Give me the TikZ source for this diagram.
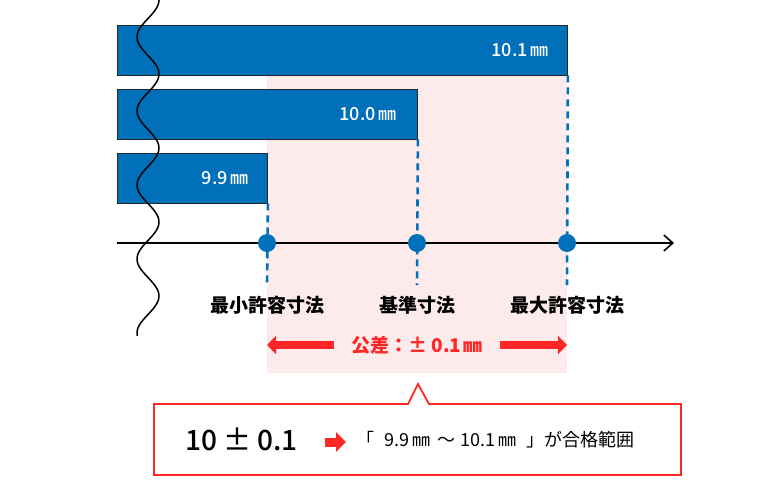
\documentclass[tikz,border=0pt]{standalone}
\usepackage{fontspec}
\setmainfont{Noto Sans CJK JP}
\IfFontExistsTF{Noto Sans CJK JP Medium}
  {\newfontfamily\medfont{Noto Sans CJK JP Medium}}
  {\newcommand\medfont{\bfseries}}
\usetikzlibrary{positioning,arrows.meta}
\definecolor{barblue}{HTML}{0070BB}
\definecolor{tolpink}{HTML}{FDEBEB}
\definecolor{tolred}{HTML}{FF2626}

\begin{document}
\begin{tikzpicture}[x=1pt,y=-1pt,
    bar/.style={rectangle,draw=black!85,fill=barblue,line width=0.9pt,minimum height=50pt,inner sep=0pt,anchor=west},
    bar text/.style={text=white,inner sep=0pt,font=\medfont\fontsize{18}{18}\selectfont},
    mark dot/.style={circle,fill=barblue,minimum size=18pt,inner sep=0pt},
    guide/.style={draw=barblue,line width=2.6pt,dash pattern=on 7pt off 5pt},
    dim label/.style={inner sep=0pt,font=\bfseries\fontsize{19}{19}\selectfont},
    wide arrow/.style={draw=tolred,line width=8pt,-{Triangle[length=9pt,width=18pt]}}]
\useasboundingbox (0,0) rectangle (768,493);

% tolerance zone
\fill[tolpink] (267,75) rectangle (567,373);

% bars
\node[bar,minimum width=450pt] (bar101) at (117,50) {};
\node[bar,minimum width=300pt] (bar100) at (117,114) {};
\node[bar,minimum width=150pt] (bar099) at (117,178) {};
\node[bar text,left=19pt of bar101.east] {10.1\hspace{3pt}㎜};
\node[bar text,left=21pt of bar100.east] {10.0\hspace{3pt}㎜};
\node[bar text,left=19pt of bar099.east] {9.9\hspace{3pt}㎜};

% guides and axis
\coordinate (gmin) at (267,285);
\coordinate (gstd) at (417,285);
\coordinate (gmax) at (567,285);
\draw[guide] (bar099.south east) -- (gmin);
\draw[guide] (bar100.south east) -- (gstd);
\draw[guide] (bar101.south east) -- (gmax);
\coordinate (ax0) at (117,243);
\coordinate (ax1) at (674,243);
\draw[line width=1.6pt,-{Straight Barb[length=9pt,width=16pt,line width=1.6pt]}] (ax0) -- (ax1);
\node[mark dot] (dmin) at (267,243) {};
\node[mark dot] (dstd) at (417,243) {};
\node[mark dot] (dmax) at (567,243) {};

% break line
\draw[line width=1.5pt] plot[domain=0:336,samples=150,smooth] ({148+11*cos(4.865*\x)},\x);

\node[dim label,below=11pt of gmin] (lmin) {最小許容寸法};
\node[dim label,below=11pt of gstd] (lstd) {基準寸法};
\node[dim label,below=11pt of gmax] (lmax) {最大許容寸法};

% tolerance
\node[inner sep=0pt,text=tolred,font=\bfseries\fontsize{19}{19}\selectfont] (tol) at (417,345) {公差：±\hspace{4pt}0.1\hspace{2pt}㎜};
\coordinate (tolL) at (267,345);
\coordinate (tolR) at (567,345);
\draw[wide arrow] ([xshift=-17pt]tol.west) -- (tolL);
\draw[wide arrow] ([xshift=17pt]tol.east) -- (tolR);

% callout
\draw[draw=tolred,line width=1.8pt,fill=white] (154,404) -- (408,404) -- (418,384) -- (429,404)
    -- (681,404) -- (681,475) -- (154,475) -- cycle;
\node[anchor=west,inner sep=0pt,font=\medfont\fontsize{28}{28}\selectfont] (expr) at (185,439) {10\hspace{6pt}±\hspace{6pt}0.1};
\coordinate (pa) at (325,442);
\coordinate (pb) at (346,442);
\draw[draw=tolred,line width=9pt,-{Triangle[length=10pt,width=19pt]}] (pa) -- (pb);
\node[anchor=west,inner sep=0pt,font=\fontsize{18}{18}\selectfont] (range) at (356,440)
    {「\hspace{10pt}9.9\hspace{3pt}㎜\hspace{7pt}～\hspace{5pt}10.1\hspace{3pt}㎜\hspace{10pt}」が合格範囲};
\end{tikzpicture}
\end{document}
